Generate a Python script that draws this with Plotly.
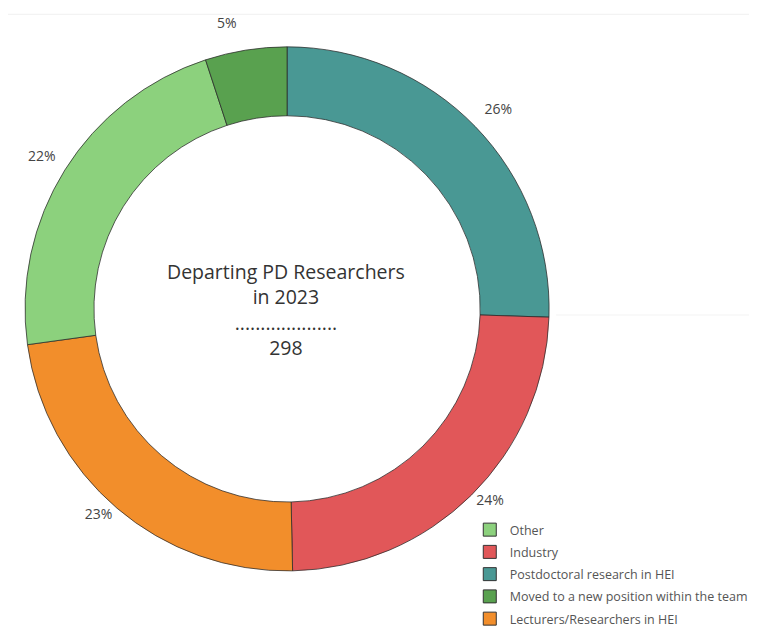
import plotly.graph_objects as go

# departing postdoctoral researchers in 2023, by destination (slice order, clockwise from 12 o'clock)
destinations = ['Postdoctoral research in HEI', 'Industry', 'Lecturers/Researchers in HEI',
                'Other', 'Moved to a new position within the team']
counts = [76, 72, 69, 66, 15]
colors = ['#499894', '#E15759', '#F28E2B', '#8CD17D', '#59A14F']

# legend order as shown in the reference
legend_order = ['Other', 'Industry', 'Postdoctoral research in HEI',
                'Moved to a new position within the team', 'Lecturers/Researchers in HEI']

total = sum(counts)
colour_of = dict(zip(destinations, colors))

# labels on the upper half sit a little further from the ring
pct = '%{percent:.0%}'
label_fmt = [pct + '<br> ', pct, pct, pct + '<br> ', pct + '<br> ']

fig = go.Figure()

fig.add_trace(go.Pie(
    labels=destinations,
    values=counts,
    sort=False,
    direction='clockwise',
    rotation=0,
    hole=0.737,
    marker=dict(colors=colors, line=dict(color='rgba(40,40,40,0.75)', width=1)),
    texttemplate=label_fmt,
    textposition='outside',
    outsidetextfont=dict(family='Open Sans', size=14, color='#444'),
    showlegend=False,
    hoverinfo='label+value+percent',
    domain=dict(x=[0.0225, 0.7148], y=[0.1007, 0.938]),
))

# legend-only entries so the legend can follow its own order
for name in legend_order:
    fig.add_trace(go.Scatter(
        x=[None], y=[None], mode='markers', name=name, legendgroup=name,
        marker=dict(symbol='square', size=13, color=colour_of[name],
                    line=dict(color='#333', width=1)),
    ))

fig.add_annotation(
    x=0.3675, y=0.519, xref='paper', yref='paper', showarrow=False,
    text='Departing PD Researchers<br>in 2023<br>....................<br>' + str(total),
    font=dict(family='Open Sans', size=19.5, color='#333'),
    align='center',
)

# faint divider lines from the original dashboard
fig.add_shape(type='line', xref='paper', yref='paper', x0=0, x1=1, y0=0.990, y1=0.990,
              line=dict(color='#f0f0f0', width=1))
fig.add_shape(type='line', xref='paper', yref='paper', x0=0.724, x1=1, y0=0.5096, y1=0.5096,
              line=dict(color='#f3f3f3', width=1))

fig.update_layout(
    width=757, height=626,
    margin=dict(l=0, r=0, t=0, b=0),
    paper_bgcolor='white', plot_bgcolor='white',
    xaxis=dict(visible=False), yaxis=dict(visible=False),
    legend=dict(x=0.61, y=0.0, xanchor='left', yanchor='bottom',
                font=dict(family='Open Sans', size=12.5, color='#555'),
                itemsizing='trace', tracegroupgap=3, bgcolor='rgba(0,0,0,0)'),
)

fig.write_html('out.html')
